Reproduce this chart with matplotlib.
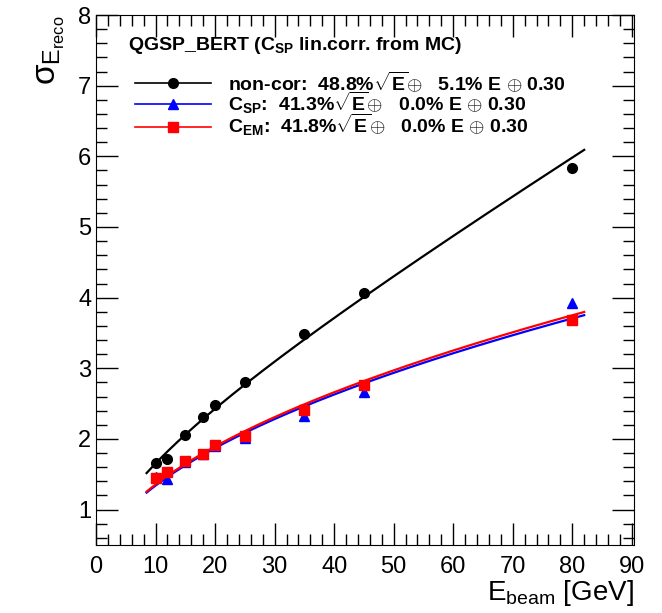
import numpy as np
import matplotlib
matplotlib.use("Agg")
import matplotlib.pyplot as plt
from matplotlib.ticker import MultipleLocator

plt.rcParams['font.family'] = ['Liberation Sans', 'DejaVu Sans']
plt.rcParams['mathtext.fontset'] = 'custom'
plt.rcParams['mathtext.rm'] = 'Liberation Sans'
plt.rcParams['mathtext.it'] = 'Liberation Sans'
plt.rcParams['mathtext.bf'] = 'Liberation Sans:bold'

# beam energies (GeV)
ebeam = [10, 12, 15, 18, 20, 25, 35, 45, 80]
# resolution points
sig_noncor = [1.66, 1.72, 2.06, 2.31, 2.48, 2.81, 3.49, 4.06, 5.83]
sig_csp = [1.46, 1.43, 1.67, 1.79, 1.90, 2.01, 2.33, 2.67, 3.93]
sig_cem = [1.45, 1.53, 1.69, 1.79, 1.91, 2.04, 2.41, 2.77, 3.69]

# fit parameters: stochastic, constant, noise
fit_noncor = (0.488, 0.051, 0.30)
fit_csp = (0.413, 0.0, 0.30)
fit_cem = (0.418, 0.0, 0.30)
fit_range = (8.5, 82.0)


def reso(e, p):
    a, b, c = p
    return np.sqrt(a**2 * e + (b * e)**2 + c**2)


fig = plt.figure(figsize=(6.62, 6.13), dpi=100)
ax = fig.add_axes([0.145, 0.111, 0.813, 0.8645])

ee = np.linspace(fit_range[0], fit_range[1], 300)
series = [
    (sig_noncor, fit_noncor, 'black', 'o', 7,
     r'non-cor:  48.8%$\sqrt{\mathbf{E}}$$\oplus$   5.1% E $\oplus$ 0.30'),
    (sig_csp, fit_csp, 'blue', '^', 7.5,
     r'C$_{\mathbf{SP}}$:  41.3%$\sqrt{\mathbf{E}}$$\oplus$   0.0% E $\oplus$ 0.30'),
    (sig_cem, fit_cem, 'red', 's', 7,
     r'C$_{\mathbf{EM}}$:  41.8%$\sqrt{\mathbf{E}}$$\oplus$   0.0% E $\oplus$ 0.30'),
]
handles = []
for ys, p, col, mk, ms, lab in series:
    ax.plot(ee, reso(ee, p), color=col, lw=1.6)
    ax.plot(ebeam, ys, linestyle='none', marker=mk, color=col, ms=ms)
    h, = ax.plot([], [], color=col, lw=1.2, marker=mk, ms=ms, label=lab)
    handles.append(h)

ax.set_xlim(0, 90.4)
ax.set_ylim(0.5, 8)
ax.xaxis.set_major_locator(MultipleLocator(10))
ax.xaxis.set_minor_locator(MultipleLocator(2))
ax.yaxis.set_major_locator(MultipleLocator(1))
ax.yaxis.set_minor_locator(MultipleLocator(0.2))
ax.tick_params(which='both', direction='in', top=True, right=True, labelsize=17)
ax.tick_params(which='major', length=16, width=1)
ax.tick_params(which='minor', length=8, width=1)
ax.tick_params(axis='x', which='major', length=16, pad=8)

ax.set_xlabel(r'E$_{\mathrm{beam}}$ [GeV]', fontsize=20, loc='right', labelpad=0)
ax.set_ylabel(r'$\sigma_{\mathrm{E_{reco}}}$', fontsize=24, loc='top', labelpad=8)

ax.text(0.059, 0.943, r'QGSP_BERT (C$_{\mathbf{SP}}$ lin.corr. from MC)',
        transform=ax.transAxes, fontsize=14, fontweight='bold', va='center', ha='left')
leg = ax.legend(handles=handles, loc='upper left', bbox_to_anchor=(0.0725, 0.898),
                frameon=False, prop={'weight': 'bold', 'size': 14},
                handlelength=3.9, handletextpad=0.9,
                labelspacing=-0.2, borderaxespad=0, borderpad=0)

fig.savefig('out.png', dpi=100)
